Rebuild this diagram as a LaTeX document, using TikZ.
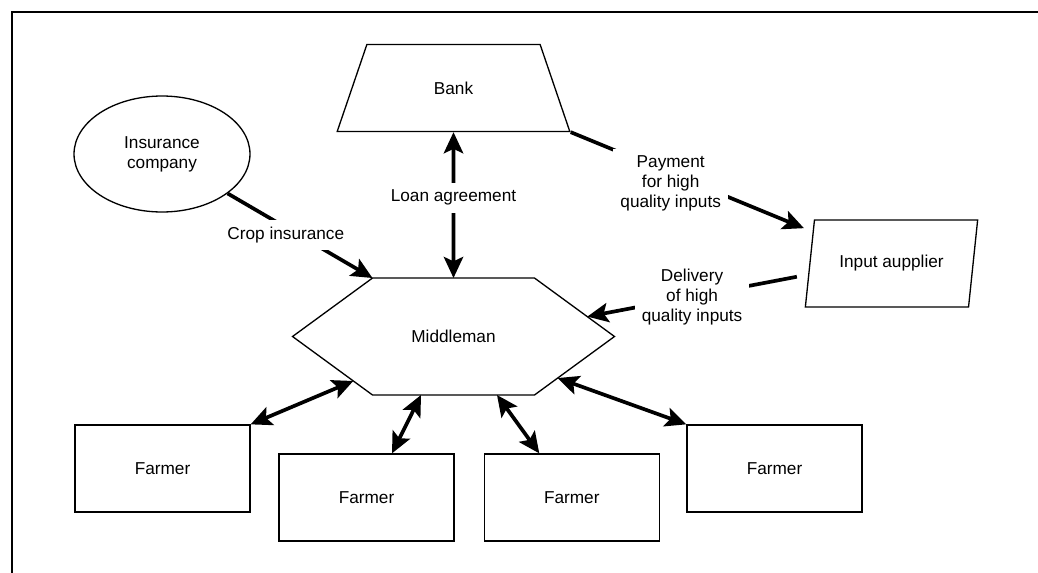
\documentclass[tikz,border=0pt]{standalone}
\usepackage{fontspec}
\setmainfont{Liberation Sans}
\usepackage{tikz}
\usetikzlibrary{positioning,shapes.geometric,arrows.meta,calc}

\begin{document}
\begin{tikzpicture}[
        x=0.02cm, y=-0.02cm,
        every node/.style={font=\fontsize{9.8}{11.4}\selectfont, align=center},
        shapebox/.style={draw, line width=0.75pt, inner sep=0pt},
        farmer/.style={shapebox, rectangle, minimum width=3.5cm, minimum height=1.74cm},
        flow/.style={line width=2.1pt, -{Stealth[length=12pt, width=11pt, inset=2.5pt]}},
        twoway/.style={line width=2.1pt, {Stealth[length=12pt, width=11pt, inset=2.5pt]}-{Stealth[length=12pt, width=11pt, inset=2.5pt]}},
        tag/.style={fill=white, inner sep=4pt}
    ]
        \useasboundingbox (0,0) rectangle (1038,572);
        \draw[line width=1.3pt] (12,600) |- (1060,12);

        \node[shapebox, trapezium, trapezium stretches=true, trapezium left angle=62, trapezium right angle=62, minimum width=4.66cm, minimum height=1.74cm] (bank) at (453.5,88) {Bank};
        \node[shapebox, ellipse, minimum width=3.52cm, minimum height=2.32cm] (insurer) at (162,154) {Insurance\\company};
        \node[inner sep=0pt, outer sep=0pt, minimum width=3.24cm, minimum height=2.34cm] (middleman) at (453.5,336.5) {Middleman};
        \draw[line width=0.75pt] (middleman.north west) -- (middleman.north east) -- ([xshift=1.6cm]middleman.east) -- (middleman.south east) -- (middleman.south west) -- ([xshift=-1.6cm]middleman.west) -- cycle;
        \node[shapebox, trapezium, trapezium stretches=true, trapezium left angle=69, trapezium right angle=111, minimum width=3.46cm, minimum height=1.74cm] (supplier) at (891.5,263.5) {Input aupplier};

        \node[farmer] (farmerA) at (162.5,468.5) {Farmer};
        \node[farmer] (farmerB) at (366.5,497.5) {Farmer};
        \node[farmer, right=0.58cm of farmerB] (farmerC) {Farmer};
        \node[farmer] (farmerD) at (774.5,468.5) {Farmer};

        \draw[flow] (insurer.-31) -- node[tag, pos=0.45, xshift=-0.14cm, yshift=-0.07cm] {Crop insurance} (middleman.north west);
        \draw[twoway] (bank.south) -- node[tag, pos=0.45] {Loan agreement} (middleman.north);
        \draw[flow] (bank.bottom right corner) -- node[tag, pos=0.45, xshift=-0.1cm, yshift=-0.16cm] {Payment\\for high\\quality inputs} ($(supplier.top left corner)!0.1!(supplier.bottom left corner)+(-9,0)$);
        \draw[flow] ($(supplier.top left corner)!0.65!(supplier.bottom left corner)+(-11,0)$) -- node[tag, pos=0.5] {Delivery\\of high\\quality inputs} ($(middleman.north east)!0.66!([xshift=1.6cm]middleman.east)$);

        \draw[twoway] (farmerA.north east) -- ($(middleman.south west)!0.24!([xshift=-1.6cm]middleman.west)$);
        \draw[twoway] ([xshift=0.51cm]farmerB.north) -- ([xshift=-0.65cm]middleman.south);
        \draw[twoway] ([xshift=-0.65cm]farmerC.north) -- ([xshift=0.87cm]middleman.south);
        \draw[twoway] (farmerD.north west) -- ($(middleman.south east)!0.29!([xshift=1.6cm]middleman.east)$);
    \end{tikzpicture}
\end{document}
